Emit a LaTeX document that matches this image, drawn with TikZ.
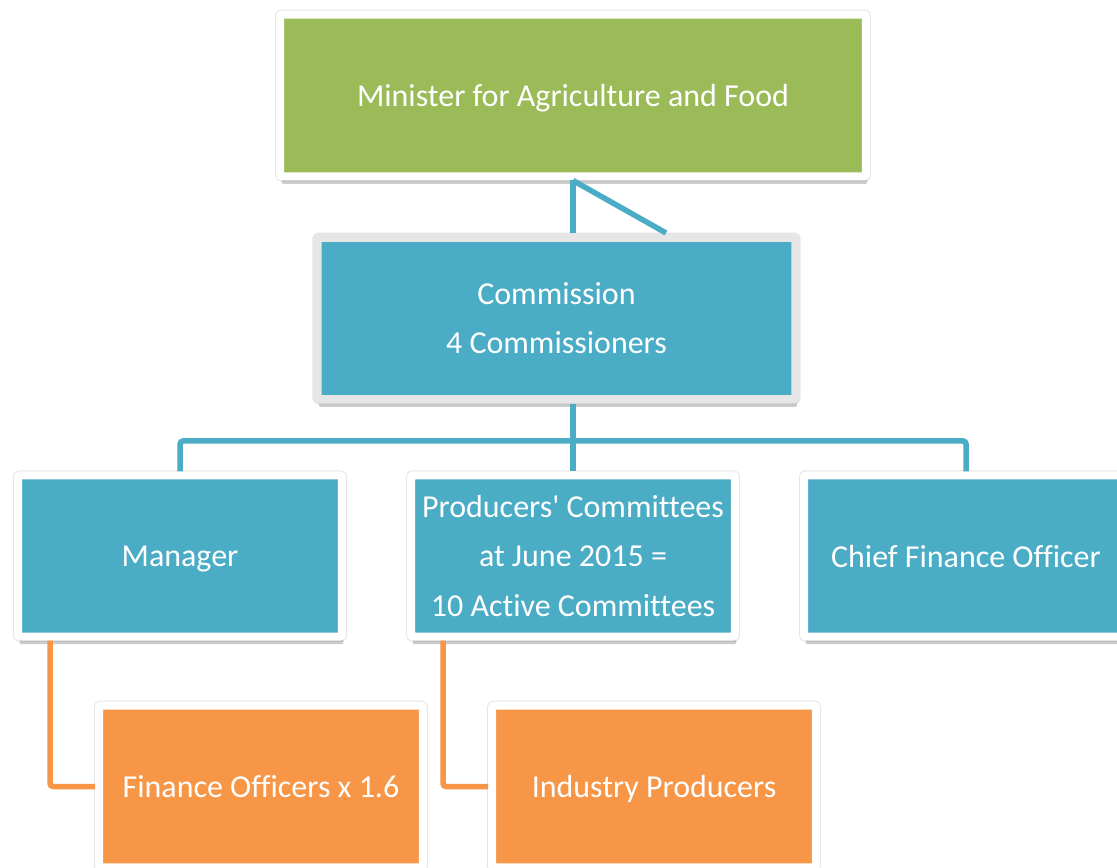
\documentclass[tikz,border=0pt]{standalone}
\usepackage{fontspec}
\setmainfont[Ligatures=NoCommon]{Carlito}
\usetikzlibrary{shadows,calc}

\definecolor{agrgreen}{HTML}{9BBB59}
\definecolor{orgblue}{HTML}{4BACC6}
\definecolor{orgorange}{HTML}{F79646}
\definecolor{framegray}{HTML}{E6E6E6}

\tikzset{
    box/.style={rectangle, draw=white, line width=0.16cm, rounded corners=0.04cm,
        inner sep=0pt, text=white, align=center,
        font=\fontsize{18.2}{28}\selectfont,
        preaction={draw=black!10, line width=0.2cm},
        drop shadow={shadow xshift=0.03cm, shadow yshift=-0.15cm, opacity=0.2, fill=black}},
    oneline/.style={text depth=0pt},
    bluelink/.style={draw=orgblue, line width=0.11cm},
    orangelink/.style={draw=orgorange, line width=0.11cm}
}

\begin{document}
\begin{tikzpicture}[x=0.02cm,y=-0.02cm]
    \useasboundingbox (0,0) rectangle (1117,868);
    \clip (0,0) rectangle (1117,868);
    \fill[white] (0,0) rectangle (1117,868);

    % top level
    \node[box, oneline, fill=agrgreen, minimum width=11.72cm, minimum height=3.24cm] (minister) at (573,95.5) {Minister for Agriculture and Food};
    \node[box, fill=orgblue, draw=framegray, line width=0.17cm, minimum width=9.57cm, minimum height=3.24cm] (commission) at (556.5,318.5) {Commission\\4 Commissioners};

    % second row
    \node[box, oneline, fill=orgblue, minimum width=6.48cm, minimum height=3.23cm] (manager) at (180,556) {Manager};
    \node[box, fill=orgblue, minimum width=6.48cm, minimum height=3.23cm] (producers) at (573,556) {Producers\textquotesingle{} Committees\\at June 2015 =\\10 Active Committees};
    \node[box, oneline, fill=orgblue, minimum width=6.48cm, minimum height=3.23cm] (cfo) at (966,556) {Chief Finance Officer};

    % bottom row
    \node[box, oneline, fill=orgorange, minimum width=6.48cm, minimum height=3.24cm] (finance) at (261,786.5) {Finance Officers x 1.6};
    \node[box, oneline, fill=orgorange, minimum width=6.48cm, minimum height=3.24cm] (industry) at (654,786.5) {Industry Producers};

    \coordinate (tail) at (666,233);
    \coordinate (bus) at (573,441);

    % connectors
    \draw[bluelink] (minister.south) -- (minister.south |- commission.north);
    \draw[bluelink] (minister.south) -- (tail);
    \draw[bluelink] (producers.north |- commission.south) -- (producers.north);
    \draw[bluelink, rounded corners=0.06cm] (manager.north) |- (bus) -| (cfo.north);
    \draw[orangelink, rounded corners=0.06cm] ($(manager.south west)+(36,0)$) |- (finance.west);
    \draw[orangelink, rounded corners=0.06cm] ($(producers.south west)+(36,0)$) |- (industry.west);
\end{tikzpicture}
\end{document}
